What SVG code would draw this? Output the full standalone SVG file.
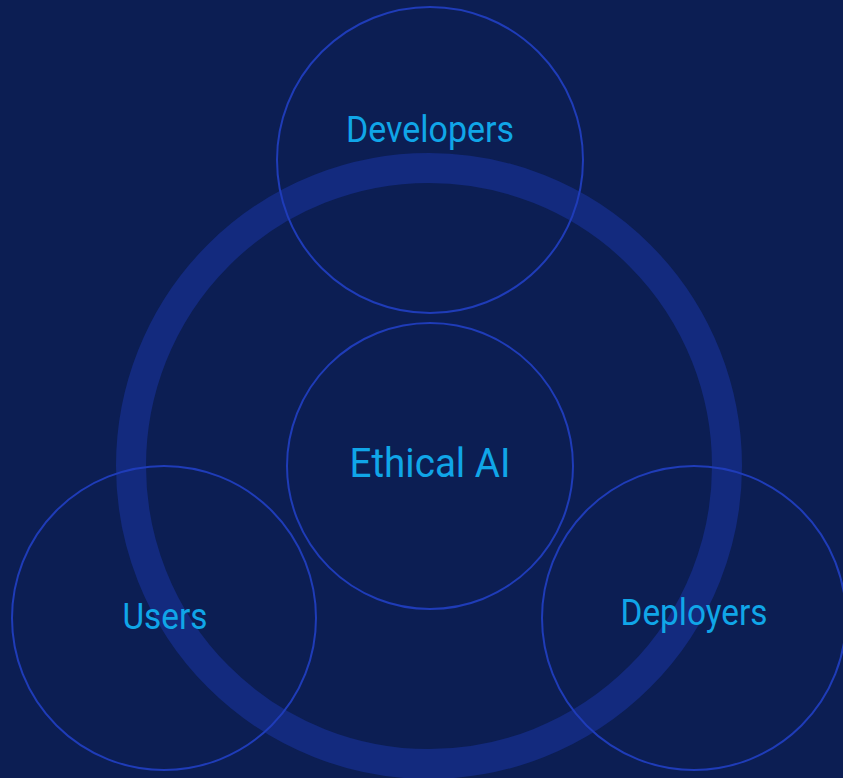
<svg xmlns="http://www.w3.org/2000/svg" width="843" height="778" viewBox="0 0 843 778">
<style>
.c{fill:none;stroke:#1f3cb8;stroke-width:2}
.t{font-family:Roboto,"Liberation Sans",sans-serif;fill:#10a6e8;text-anchor:middle}
</style>
<rect width="843" height="778" fill="#0c1e53"/>
<g id="ring"><circle cx="429" cy="466" r="298" fill="none" stroke="#132a7e" stroke-width="30"/></g>
<g id="developers"><circle class="c" cx="430" cy="160" r="153"/><text class="t" x="430" y="142" font-size="36" textLength="168" lengthAdjust="spacingAndGlyphs">Developers</text></g>
<g id="ethical-ai"><circle class="c" cx="430" cy="466" r="143"/><text class="t" x="430" y="477" font-size="40" textLength="161" lengthAdjust="spacingAndGlyphs">Ethical AI</text></g>
<g id="users"><circle class="c" cx="164" cy="618" r="152"/><text class="t" x="165" y="629" font-size="36" textLength="85" lengthAdjust="spacingAndGlyphs">Users</text></g>
<g id="deployers"><circle class="c" cx="694" cy="618" r="152"/><text class="t" x="694" y="625" font-size="36" textLength="147" lengthAdjust="spacingAndGlyphs">Deployers</text></g>
<g id="connectors"></g>
</svg>
